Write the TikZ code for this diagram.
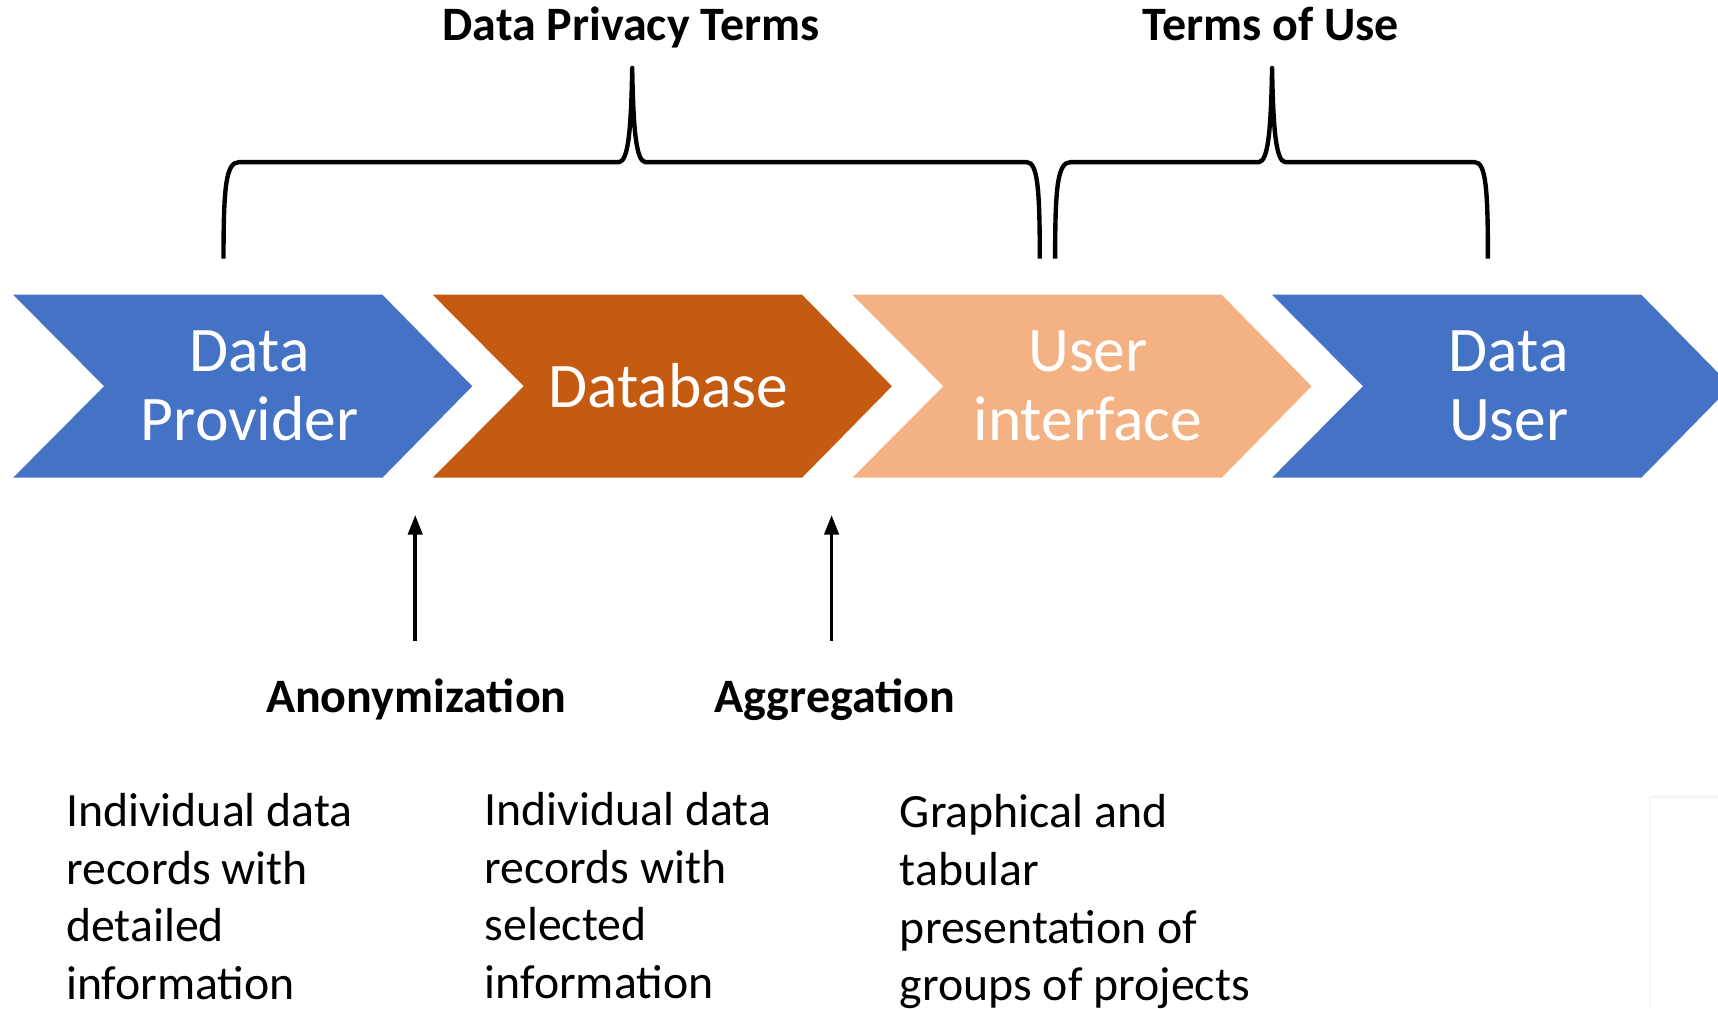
\documentclass[tikz,border=0pt]{standalone}
\usepackage{fontspec}
\setmainfont{Carlito}
\usetikzlibrary{arrows.meta}
\definecolor{cblue}{HTML}{4472C4}
\definecolor{corange}{HTML}{C55A11}
\definecolor{cpeach}{HTML}{F4B183}
\begin{document}
\begin{tikzpicture}[x=0.5pt,y=-0.5pt,
  chevtext/.style={text=white,font=\fontsize{29pt}{31.5pt}\selectfont,align=center,inner sep=0pt},
  boldlbl/.style={font=\fontsize{21.9pt}{26pt}\selectfont\bfseries,inner sep=0pt,anchor=base},
  desc/.style={font=\fontsize{21.8pt}{26.25pt}\selectfont,align=left,inner sep=0pt,anchor=north west},
  bracestyle/.style={line width=2pt,line join=round},
  uparrow/.style={line width=1.7pt,-{Triangle[length=9pt,width=6.5pt]}}]
\useasboundingbox (0,0) rectangle (1568,920);
\begin{scope}
\clip (0,0) rectangle (1568,920);
% chevrons
\fill[cblue]   (12,269) -- (349,269) -- (431,352.5) -- (349,436) -- (12,436) -- (95,352.5) -- cycle;
\fill[corange] (395,269) -- (732,269) -- (814,352.5) -- (732,436) -- (395,436) -- (478,352.5) -- cycle;
\fill[cpeach]  (778,269) -- (1115,269) -- (1197,352.5) -- (1115,436) -- (778,436) -- (861,352.5) -- cycle;
\fill[cblue]   (1161,269) -- (1498,269) -- (1580,352.5) -- (1498,436) -- (1161,436) -- (1244,352.5) -- cycle;
% faint frame remnant
\draw[gray!7,line width=1pt] (1506,920) -- (1506,727) -- (1568,727);
\end{scope}
\node[chevtext] (prov) at (228,352) {Data\\Provider};
\node[chevtext] (db) at (610,352) {Database};
\node[chevtext] (ui) at (993,352) {User\\interface};
\node[chevtext] (user) at (1377,352) {Data\\User};
% braces
\coordinate (b1l) at (204,236);
\coordinate (b1r) at (949,236);
\coordinate (b1t) at (577,62);
\coordinate (b2l) at (963,236);
\coordinate (b2r) at (1358,236);
\coordinate (b2t) at (1161,62);
\draw[bracestyle] (b1l) .. controls (204,172) and (206,148) .. (218,148) -- (565,148)
  .. controls (573,147) and (576,122) .. (b1t)
  .. controls (578,122) and (581,147) .. (589,148) -- (937,148)
  .. controls (947,148) and (949,172) .. (b1r);
\draw[bracestyle] (b2l) .. controls (963,172) and (965,148) .. (977,148) -- (1149,148)
  .. controls (1157,147) and (1160,122) .. (b2t)
  .. controls (1162,122) and (1165,147) .. (1173,148) -- (1346,148)
  .. controls (1356,148) and (1358,172) .. (b2r);
\node[boldlbl] (dpt) at (576,37) {Data Privacy Terms};
\node[boldlbl] (tou) at (1160,37) {Terms of Use};
% arrows
\coordinate (a1s) at (379,585);
\coordinate (a1e) at (379,470);
\coordinate (a2s) at (759,585);
\coordinate (a2e) at (759,470);
\draw[uparrow] (a1s) -- (a1e);
\draw[uparrow] (a2s) -- (a2e);
\node[boldlbl] (anon) at (380,650) {Anonymization};
\node[boldlbl] (aggr) at (762,650) {Aggregation};
% descriptions
\node[desc] (d1) at (60,724) {Individual data\\records with\\detailed\\information};
\node[desc] (d2) at (442,723) {Individual data\\records with\\selected\\information};
\node[desc] (d3) at (821,725) {Graphical and\\tabular\\presentation of\\groups of projects};
\end{tikzpicture}
\end{document}
